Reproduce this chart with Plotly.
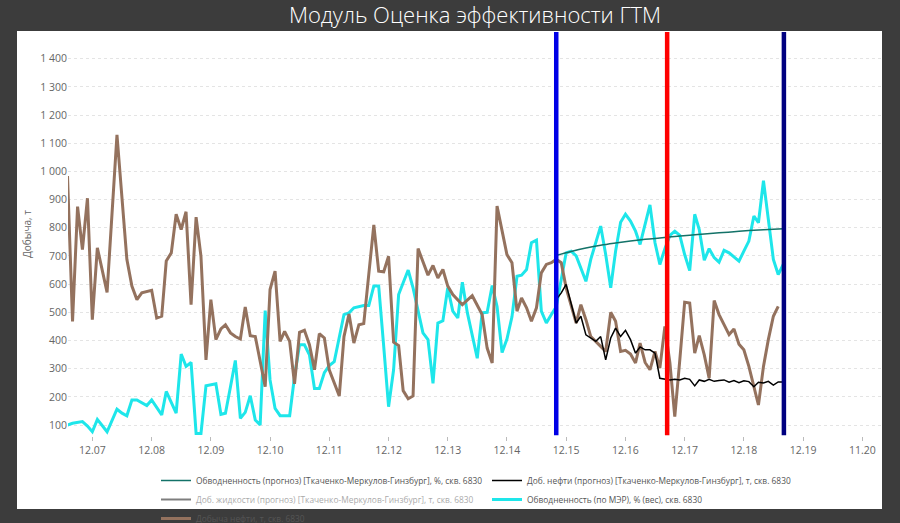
import plotly.graph_objects as go

# --- data ---
oil_dates = [
    "2007-07", "2007-08", "2007-09", "2007-10", "2007-11", "2007-12", "2008-01", "2008-03",
    "2008-05", "2008-07", "2008-08", "2008-09", "2008-10", "2008-12", "2009-01", "2009-02",
    "2009-03", "2009-04", "2009-05", "2009-06", "2009-07", "2009-08", "2009-09", "2009-10",
    "2009-11", "2009-12", "2010-01", "2010-02", "2010-03", "2010-04", "2010-05", "2010-06",
    "2010-07", "2010-08", "2010-09", "2010-11", "2010-12", "2011-01", "2011-02", "2011-03",
    "2011-04", "2011-05", "2011-06", "2011-07", "2011-08", "2011-09", "2011-10", "2011-11",
    "2011-12", "2012-02", "2012-03", "2012-04", "2012-05", "2012-06", "2012-07", "2012-09",
    "2012-10", "2012-11", "2012-12", "2013-01", "2013-02", "2013-03", "2013-04", "2013-05",
    "2013-06", "2013-07", "2013-08", "2013-09", "2013-10", "2013-11", "2013-12", "2014-01",
    "2014-03", "2014-05", "2014-07", "2014-08", "2014-09", "2014-10", "2014-11", "2014-12",
    "2015-01", "2015-02", "2015-03", "2015-04", "2015-05", "2015-06", "2015-07", "2015-08",
    "2015-09", "2015-10", "2015-11", "2015-12", "2016-02", "2016-03", "2016-04", "2016-05",
    "2016-07", "2016-08", "2016-09", "2016-10", "2016-11", "2016-12", "2017-01", "2017-02",
    "2017-03", "2017-04", "2017-05", "2017-06", "2017-07", "2017-08", "2017-09", "2017-10",
    "2017-11", "2017-12", "2018-01", "2018-02", "2018-03", "2018-04", "2018-05", "2018-06",
    "2018-07", "2018-09", "2018-10", "2018-11", "2018-12", "2019-01", "2019-03", "2019-04",
    "2019-05", "2019-06", "2019-07",
]
oil_values = [
    984, 468, 875, 723, 905, 474, 729, 571,
    1130, 688, 593, 545, 569, 578, 480, 486,
    682, 711, 848, 794, 857, 527, 838, 699,
    331, 545, 403, 441, 456, 427, 414, 405,
    519, 417, 414, 236, 581, 646, 397, 432,
    397, 246, 429, 436, 385, 296, 424, 409,
    296, 203, 414, 494, 391, 456, 460, 810,
    646, 644, 699, 394, 382, 222, 193, 203,
    726, 676, 632, 666, 622, 652, 593, 563,
    527, 559, 492, 373, 320, 877, 794, 705,
    676, 504, 551, 516, 468, 516, 640, 670,
    676, 688, 676, 587, 462, 527, 474, 414,
    379, 361, 500, 468, 361, 365, 352, 320,
    391, 322, 296, 361, 302, 450, 320, 130,
    331, 536, 533, 355, 417, 349, 266, 542,
    492, 421, 441, 387, 367, 308, 171, 308,
    403, 486, 521,
]

wc_dates = [
    "2007-07", "2007-08", "2007-10", "2007-11", "2007-12", "2008-01", "2008-03", "2008-05",
    "2008-06", "2008-07", "2008-08", "2008-09", "2008-11", "2008-12", "2009-02", "2009-03",
    "2009-05", "2009-06", "2009-07", "2009-08", "2009-09", "2009-10", "2009-11", "2010-01",
    "2010-02", "2010-03", "2010-04", "2010-05", "2010-06", "2010-07", "2010-08", "2010-09",
    "2010-10", "2010-11", "2010-12", "2011-01", "2011-02", "2011-04", "2011-05", "2011-06",
    "2011-07", "2011-08", "2011-09", "2011-10", "2011-11", "2011-12", "2012-01", "2012-02",
    "2012-03", "2012-04", "2012-05", "2012-07", "2012-08", "2012-09", "2012-10", "2012-11",
    "2012-12", "2013-01", "2013-02", "2013-03", "2013-04", "2013-05", "2013-06", "2013-07",
    "2013-08", "2013-09", "2013-10", "2013-11", "2013-12", "2014-01", "2014-02", "2014-03",
    "2014-04", "2014-06", "2014-07", "2014-08", "2014-09", "2014-10", "2014-11", "2014-12",
    "2015-01", "2015-02", "2015-03", "2015-04", "2015-05", "2015-06", "2015-07", "2015-08",
    "2015-09", "2015-10", "2015-12", "2016-01", "2016-02", "2016-04", "2016-05", "2016-07",
    "2016-08", "2016-09", "2016-10", "2016-11", "2016-12", "2017-01", "2017-02", "2017-03",
    "2017-05", "2017-06", "2017-07", "2017-08", "2017-09", "2017-10", "2017-11", "2017-12",
    "2018-01", "2018-02", "2018-03", "2018-04", "2018-05", "2018-06", "2018-07", "2018-08",
    "2018-09", "2018-11", "2018-12", "2019-01", "2019-02", "2019-03", "2019-04", "2019-05",
    "2019-06", "2019-07", "2019-08",
]
wc_values = [
    100, 106, 112, 96, 76, 120, 76, 156,
    142, 133, 189, 189, 169, 189, 136, 219,
    142, 352, 308, 322, 70, 70, 239, 246,
    138, 142, 236, 329, 124, 145, 204, 118,
    100, 506, 260, 159, 133, 133, 272, 385,
    385, 349, 230, 230, 286, 311, 325, 414,
    492, 498, 516, 524, 524, 593, 593, 379,
    165, 296, 563, 605, 650, 587, 504, 427,
    403, 248, 462, 470, 587, 504, 480, 607,
    498, 337, 498, 500, 595, 521, 357, 405,
    484, 628, 632, 652, 747, 756, 504, 462,
    492, 520, 711, 717, 700, 610, 688, 806,
    705, 587, 717, 820, 848, 824, 788, 741,
    881, 747, 670, 726, 773, 788, 773, 705,
    648, 848, 794, 685, 726, 694, 678, 720,
    711, 682, 717, 753, 842, 818, 967, 830,
    688, 634, 670,
]

oil_fc_dates = [
    "2015-10", "2015-11", "2015-12", "2016-02", "2016-03", "2016-04", "2016-06", "2016-07",
    "2016-08", "2016-09", "2016-10", "2016-11", "2016-12", "2017-01", "2017-02", "2017-03",
    "2017-04", "2017-05", "2017-06", "2017-07", "2017-09", "2017-10", "2017-11", "2017-12",
    "2018-01", "2018-02", "2018-03", "2018-04", "2018-05", "2018-06", "2018-07", "2018-08",
    "2018-09", "2018-10", "2018-11", "2018-12", "2019-01", "2019-02", "2019-03", "2019-04",
    "2019-05", "2019-06", "2019-07", "2019-08",
]
oil_fc_values = [
    545, 569, 599, 462, 486, 420, 397, 414,
    331, 409, 444, 414, 436, 403, 355, 377,
    367, 367, 355, 266, 260, 262, 260, 266,
    262, 239, 260, 255, 262, 255, 258, 260,
    252, 258, 250, 257, 254, 236, 252, 249,
    255, 242, 253, 253,
]

wc_fc_dates = [
    "2015-10", "2016-01", "2016-04", "2016-07", "2016-10", "2017-01", "2017-04", "2017-07",
    "2017-10", "2018-01", "2018-04", "2018-07", "2018-10", "2019-01", "2019-04", "2019-08",
]
wc_fc_values = [702, 716, 728, 738, 746, 753, 759, 764, 769, 774, 778, 782, 786, 790, 793, 797]

# series switched off in the reference legend: values not shown
liq_fc_dates = ["2015-10"]
liq_fc_values = [None]

gtm_dates = ["2015-10-01", "2017-08-15", "2019-08-05"]
gtm_colors = ["#0000e6", "#ff0000", "#000080"]

tick_vals = ["2007-12-01", "2008-12-01", "2009-12-01", "2010-12-01", "2011-12-01",
             "2012-12-01", "2013-12-01", "2014-12-01", "2015-12-01", "2016-12-01",
             "2017-12-01", "2018-12-01", "2019-12-01", "2020-12-01"]
tick_text = ["12.07", "12.08", "12.09", "12.10", "12.11", "12.12", "12.13",
             "12.14", "12.15", "12.16", "12.17", "12.18", "12.19", "11.20"]

# --- figure ---
W, H = 900, 523
L, R, T, B = 68, 18, 32, 87
pw, ph = W - L - R, H - T - B

fig = go.Figure()
fig.add_trace(go.Scatter(x=wc_dates, y=wc_values, mode="lines", legendrank=4,
                         name="Обводненность (по МЭР), % (вес), скв. 6830",
                         line=dict(color="#1ee6ea", width=3)))
fig.add_trace(go.Scatter(x=oil_dates, y=oil_values, mode="lines", legendrank=5,
                         name="Добыча нефти, т, скв. 6830",
                         line=dict(color="#94725e", width=3)))
fig.add_trace(go.Scatter(x=liq_fc_dates, y=liq_fc_values, mode="lines", legendrank=3,
                         visible="legendonly",
                         name="Доб. жидкости (прогноз) [Ткаченко-Меркулов-Гинзбург], т, скв. 6830",
                         line=dict(color="#000000", width=2)))
fig.add_trace(go.Scatter(x=oil_fc_dates, y=oil_fc_values, mode="lines", legendrank=2,
                         name="Доб. нефти (прогноз) [Ткаченко-Меркулов-Гинзбург], т, скв. 6830",
                         line=dict(color="#000000", width=1.5)))
fig.add_trace(go.Scatter(x=wc_fc_dates, y=wc_fc_values, mode="lines", legendrank=1,
                         line_shape="spline",
                         name="Обводненность (прогноз) [Ткаченко-Меркулов-Гинзбург], %, скв. 6830",
                         line=dict(color="#137268", width=1.5)))

# white panel behind the chart
fig.add_shape(type="rect", xref="paper", yref="paper", layer="below",
              x0=(17 - L) / pw, x1=(882 - L) / pw,
              y0=-(509 - T - ph) / ph, y1=1 + 1 / ph,
              fillcolor="white", line_width=0)

for d, c in zip(gtm_dates, gtm_colors):
    fig.add_shape(type="line", xref="x", yref="paper", x0=d, x1=d, y0=0.002, y1=1,
                  line=dict(color=c, width=4.5))

fig.update_layout(
    width=W, height=H,
    margin=dict(l=L, r=R, t=T, b=B, autoexpand=False),
    paper_bgcolor="#3c3c3c", plot_bgcolor="white",
    separators=", ",
    font=dict(family="Open Sans", color="#666666"),
    title=dict(text="Модуль Оценка эффективности ГТМ", x=0.5, xref="paper", xanchor="center",
               y=1 - 15 / H, yanchor="middle",
               font=dict(family="Open Sans", size=22, color="white", weight=300)),
    showlegend=True,
    legend=dict(orientation="h", x=(156 - L) / pw, xanchor="left",
                y=-(466 - T - ph) / ph, yanchor="top",
                entrywidthmode="pixels", entrywidth=286,
                font=dict(size=8.4, color="#555555"),
                bgcolor="rgba(0,0,0,0)", tracegroupgap=0, traceorder="normal"),
    xaxis=dict(type="date", range=["2007-07-04", "2021-04-01"],
               tickmode="array", tickvals=tick_vals, ticktext=tick_text,
               showgrid=False, zeroline=False, showline=False,
               ticks="outside", ticklen=4, tickcolor="#bbbbbb",
               tickfont=dict(size=10.5, color="#666666")),
    yaxis=dict(range=[61, 1495], tick0=100, dtick=100, tickformat=",d",
               showgrid=True, gridcolor="#e4e4e4", griddash="dot", gridwidth=1,
               zeroline=False, showline=False, ticks="",
               tickfont=dict(size=10.5, color="#666666"),
               title=dict(text="Добыча, т", font=dict(size=10, color="#666666"), standoff=6)),
)

# no page margin so the figure sits in the window corner
fig.write_html("out.html", config={"displayModeBar": False},
               post_script="document.body.style.margin='0px';")
